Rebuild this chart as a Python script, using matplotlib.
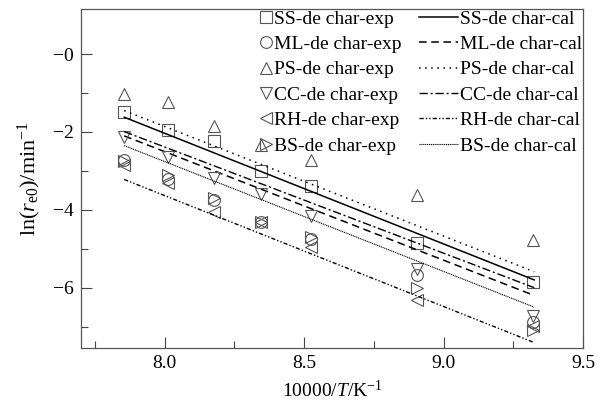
import matplotlib
matplotlib.use("Agg")
import matplotlib.pyplot as plt
from matplotlib.lines import Line2D
from matplotlib.ticker import FixedLocator

plt.rcParams['font.family'] = ['Liberation Serif', 'DejaVu Serif']
plt.rcParams['mathtext.fontset'] = 'custom'
plt.rcParams['mathtext.rm'] = 'Liberation Serif'
plt.rcParams['mathtext.it'] = 'Liberation Serif:italic'

# experimental temperatures (x = 10000/T)
x_exp = [7.855, 8.013, 8.177, 8.347, 8.525, 8.905, 9.320]
ss_exp = [-1.48, -1.95, -2.23, -2.99, -3.39, -4.86, -5.86]
ml_exp = [-2.72, -3.20, -3.75, -4.30, -4.75, -5.67, -6.87]
ps_exp = [-1.02, -1.23, -1.84, -2.33, -2.72, -3.62, -4.77]
cc_exp = [-2.12, -2.65, -3.19, -3.60, -4.17, -5.52, -6.73]
rh_exp = [-2.85, -3.31, -4.05, -4.30, -4.95, -6.32, -6.98]
bs_exp = [-2.75, -3.10, -3.70, -4.30, -4.70, -6.02, -7.09]

# fitted (calculated) lines, end points
x_cal = [7.855, 9.325]
ss_cal = [-1.62, -5.80]
ml_cal = [-2.10, -6.20]
ps_cal = [-1.45, -5.59]
cc_cal = [-1.99, -6.00]
rh_cal = [-3.22, -7.41]
bs_cal = [-2.35, -6.50]

names = ['SS', 'ML', 'PS', 'CC', 'RH', 'BS']
markers = ['s', 'o', '^', 'v', '<', '>']
exp_sets = [ss_exp, ml_exp, ps_exp, cc_exp, rh_exp, bs_exp]
cal_sets = [ss_cal, ml_cal, ps_cal, cc_cal, rh_cal, bs_cal]
styles = ['-', (0, (5, 3)), (0, (1, 3)), (0, (6, 2, 1.5, 2)),
          (0, (3, 1.5, 1, 1.5, 1, 1.5)), (0, (1, 0.7))]
widths = [1.1, 1.1, 1.1, 1.0, 1.0, 0.8]

fig = plt.figure(figsize=(6.07, 4.09), dpi=100)
ax = fig.add_axes([0.1334, 0.1491, 0.8271, 0.8289])

mcol = '#555555'
exp_handles = []
cal_handles = []
for n, m, e, c, ls, lw in zip(names, markers, exp_sets, cal_sets, styles, widths):
    ax.plot(x_exp, e, linestyle='none', marker=m, markersize=8.5,
            markerfacecolor='none', markeredgecolor=mcol, markeredgewidth=0.8)
    ax.plot(x_cal, c, linestyle=ls, color='black', linewidth=lw)
    exp_handles.append(Line2D([], [], linestyle='none', marker=m, markersize=8.5,
                              markerfacecolor='none', markeredgecolor=mcol,
                              markeredgewidth=0.8, label=f'{n}-de char-exp'))
    cal_handles.append(Line2D([], [], linestyle=ls, color='black', linewidth=lw,
                              label=f'{n}-de char-cal'))

ax.set_xlim(7.70, 9.50)
ax.set_ylim(-7.55, 1.16)
ax.xaxis.set_major_locator(FixedLocator([8.0, 8.5, 9.0, 9.5]))
ax.xaxis.set_minor_locator(FixedLocator([7.75, 8.25, 8.75, 9.25]))
ax.set_xticklabels(['8.0', '8.5', '9.0', '9.5'])
ax.yaxis.set_major_locator(FixedLocator([0, -2, -4, -6]))
ax.yaxis.set_minor_locator(FixedLocator([-1, -3, -5, -7]))
ax.set_yticklabels(['\u22120', '\u22122', '\u22124', '\u22126'])

ax.tick_params(which='both', direction='in', colors='#444444', labelcolor='black',
               labelsize=14, width=0.8)
ax.tick_params(which='major', length=8, pad=5)
ax.tick_params(which='minor', length=5)
for s in ax.spines.values():
    s.set_color('#555555')
    s.set_linewidth(0.9)

ax.set_xlabel(r'10000/$\mathit{T}$/K$^{-1}$', fontsize=14, labelpad=6)
ax.set_ylabel(r'ln($\mathit{r}_{\mathrm{e0}}$)/min$^{-1}$', fontsize=16, labelpad=7)

leg1 = ax.legend(handles=exp_handles, loc='upper left', bbox_to_anchor=(0.355, 1.0),
                 frameon=False, fontsize=14, handlelength=0.6, handletextpad=0.12,
                 labelspacing=0.40, borderaxespad=0.0, borderpad=0.05)
ax.add_artist(leg1)
ax.legend(handles=cal_handles, loc='upper right', bbox_to_anchor=(1.0, 1.0),
          frameon=False, fontsize=14, handlelength=2.0, handletextpad=0.1,
          labelspacing=0.40, borderaxespad=0.0, borderpad=0.05)

fig.savefig('out.png', dpi=100)
